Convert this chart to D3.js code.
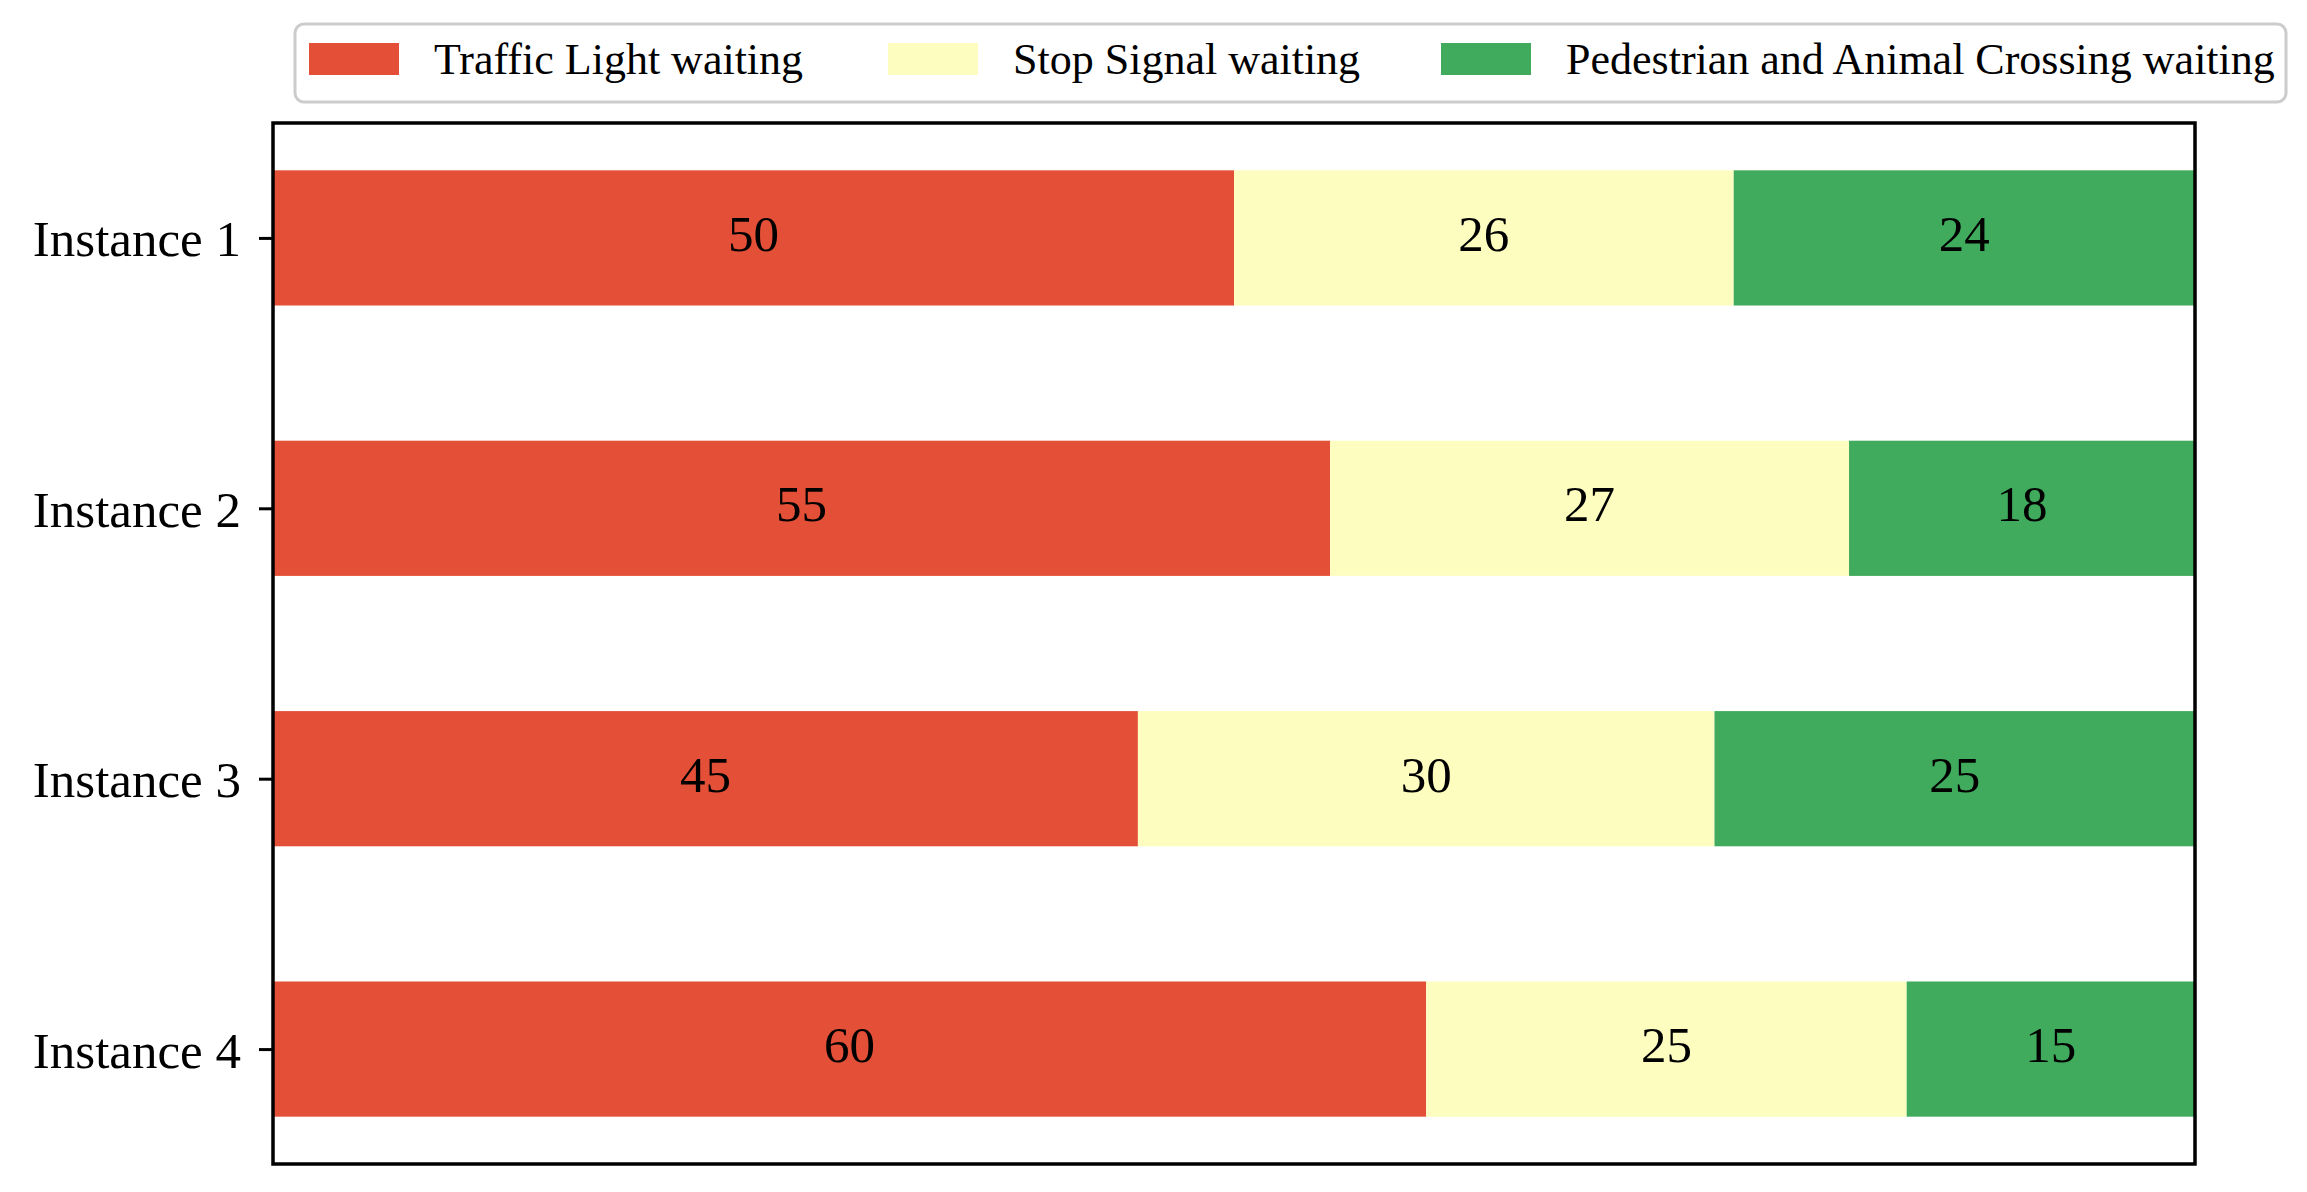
<!DOCTYPE html>
<html>
<head>
<meta charset="utf-8">
<script src="https://cdn.jsdelivr.net/npm/d3@7"></script>
<style>
  body { margin: 0; background: #fff; }
  text { font-family: "Liberation Serif", "Times New Roman", serif; fill: #000; }
</style>
</head>
<body>
<div id="chart"></div>
<script>
const instances = ["Instance 1", "Instance 2", "Instance 3", "Instance 4"];
const seriesNames = ["Traffic Light waiting", "Stop Signal waiting", "Pedestrian and Animal Crossing waiting"];
const trafficLight = [50, 55, 45, 60];
const stopSignal = [26, 27, 30, 25];
const pedestrian = [24, 18, 25, 15];
const colors = ["#e44f37", "#fdfdc0", "#41ab5d"];

const W = 2307, H = 1192;
const margin = { top: 123, right: 112, bottom: 28, left: 273 };
const width = W - margin.left - margin.right;
const height = H - margin.top - margin.bottom;

const svg = d3.select("#chart").append("svg")
    .attr("width", W)
    .attr("height", H);

const g = svg.append("g")
    .attr("transform", "translate(" + margin.left + "," + margin.top + ")");

const x = d3.scaleLinear().domain([0, 100]).range([0, width]);
// matplotlib style: bars at 0..3 with height 0.5 and 5% margins, inverted
const y = d3.scaleLinear().domain([-0.425, 3.425]).range([0, height]);
const barH = 0.5;

const rows = instances.map((name, i) => ({
    name: name,
    values: [trafficLight[i], stopSignal[i], pedestrian[i]]
}));

const segments = [];
rows.forEach((r, i) => {
    let start = 0;
    r.values.forEach((v, s) => {
        segments.push({ row: i, series: s, x0: start, x1: start + v, value: v });
        start += v;
    });
});

g.selectAll(".seg")
    .data(segments)
    .enter().append("rect")
    .attr("class", "seg")
    .attr("x", d => x(d.x0))
    .attr("y", d => y(d.row - barH / 2))
    .attr("width", d => x(d.x1) - x(d.x0))
    .attr("height", d => y(barH) - y(0))
    .attr("fill", d => colors[d.series]);

g.selectAll(".segLabel")
    .data(segments)
    .enter().append("text")
    .attr("class", "segLabel")
    .attr("x", d => x((d.x0 + d.x1) / 2))
    .attr("y", d => y(d.row) + 13)
    .attr("text-anchor", "middle")
    .style("font-size", "51px")
    .text(d => d.value);

// y axis
const yAxis = d3.axisLeft(y)
    .tickValues(d3.range(instances.length))
    .tickFormat(i => instances[i])
    .tickSize(14)
    .tickPadding(18);

const ya = g.append("g").call(yAxis);
ya.select(".domain").remove();
ya.selectAll(".tick line").attr("stroke", "#000").attr("stroke-width", 3);
ya.selectAll(".tick text")
    .attr("dy", null)
    .attr("y", 18)
    .style("font-size", "51px");

// frame
g.append("rect")
    .attr("x", 0)
    .attr("y", 0)
    .attr("width", width)
    .attr("height", height)
    .attr("fill", "none")
    .attr("stroke", "#000")
    .attr("stroke-width", 3.5);

// legend
const legend = svg.append("g").attr("class", "legend");
legend.append("rect")
    .attr("x", 295)
    .attr("y", 24)
    .attr("width", 1991)
    .attr("height", 78)
    .attr("rx", 9)
    .attr("fill", "#fff")
    .attr("stroke", "#cccccc")
    .attr("stroke-width", 3);

const legendX = [309, 888, 1441];
const items = legend.selectAll(".item")
    .data(seriesNames)
    .enter().append("g")
    .attr("class", "item")
    .attr("transform", (d, i) => "translate(" + legendX[i] + ",43)");

items.append("rect")
    .attr("width", 90)
    .attr("height", 32)
    .attr("fill", (d, i) => colors[i]);

items.append("text")
    .attr("x", 125)
    .attr("y", 31)
    .style("font-size", "44px")
    .text(d => d);
</script>
</body>
</html>
